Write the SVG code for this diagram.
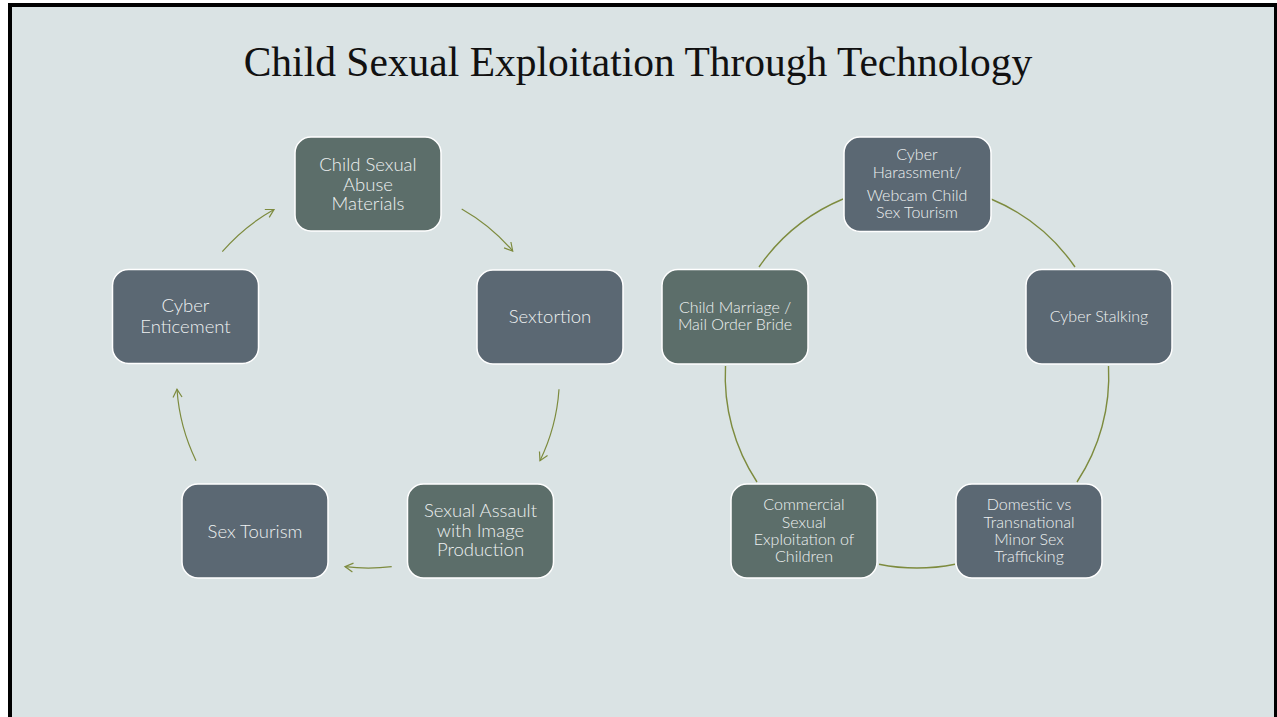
<svg xmlns="http://www.w3.org/2000/svg" width="1277" height="717" viewBox="0 0 1277 717">
  <defs>
    <style>
      .frame { fill: #000000; }
      .slide { fill: #dae3e4; }
      .title { font-family: "Liberation Serif", "DejaVu Serif", serif; font-size: 41.5px; fill: #111111; text-anchor: middle; }
      .box { stroke: #ffffff; stroke-width: 1.5; }
      .slate { fill: #5b6873; }
      .sage { fill: #5c6e6a; }
      .label { font-family: Lato, "Open Sans", "Liberation Sans", sans-serif; font-weight: 300; fill: #eef1f1; text-anchor: middle; }
      .big { font-size: 18.5px; }
      .small { font-size: 16px; }
      .arc { fill: none; stroke: #7d8b3e; stroke-width: 1.2; }
      .ring { fill: none; stroke: #7d8b3e; stroke-width: 1.4; }
    </style>
    <marker id="arrow" viewBox="-10 -6 12 12" refX="0" refY="0" markerWidth="12" markerHeight="12" markerUnits="userSpaceOnUse" orient="auto">
      <path d="M-8,-4.5 L0,0 L-8,4.5" fill="none" stroke="#7d8b3e" stroke-width="1.2"/>
    </marker>
  </defs>

  <!-- slide background with dark frame -->
  <rect x="0" y="0" width="1277" height="717" fill="#ffffff"/>
  <rect class="frame" x="8" y="3" width="1269" height="714"/>
  <rect class="slide" x="12" y="7" width="1262" height="710"/>

  <text class="title" x="638" y="76">Child Sexual Exploitation Through Technology</text>

  <!-- connectors -->
  <g id="connectors">
    <!-- left cycle, circle centre (368,376) r=192 -->
    <path class="arc" marker-end="url(#arrow)" d="M222.3,251.7 A192,192 0 0 1 274,209.5"/>
    <path class="arc" marker-end="url(#arrow)" d="M461.7,209 A192,192 0 0 1 512.7,251"/>
    <path class="arc" marker-end="url(#arrow)" d="M559,389.3 A192,192 0 0 1 540,460.7"/>
    <path class="arc" marker-end="url(#arrow)" d="M391.7,566.6 A192,192 0 0 1 345,566.6"/>
    <path class="arc" marker-end="url(#arrow)" d="M196,460.7 A192,192 0 0 1 177,389.3"/>
    <!-- right cycle, circle centre (917,376) r=192 -->
    <path class="ring" d="M759,267 A192,192 0 0 1 843,199"/>
    <path class="ring" d="M991,199 A192,192 0 0 1 1075,267"/>
    <path class="ring" d="M1108.5,366 A192,192 0 0 1 1077,482"/>
    <path class="ring" d="M955,564.2 A192,192 0 0 1 879,564.2"/>
    <path class="ring" d="M757,482 A192,192 0 0 1 725.5,366"/>
  </g>

  <!-- left cycle nodes -->
  <g id="csam">
    <rect class="box sage" x="295" y="137" width="146" height="94" rx="16"/>
    <text class="label big" x="368" y="170.5">Child Sexual</text>
    <text class="label big" x="368" y="190.5">Abuse</text>
    <text class="label big" x="368" y="210">Materials</text>
  </g>
  <g id="sextortion">
    <rect class="box slate" x="477" y="270" width="146" height="94" rx="16"/>
    <text class="label big" x="550" y="322.5">Sextortion</text>
  </g>
  <g id="sexual-assault">
    <rect class="box sage" x="407.5" y="484" width="146" height="94" rx="16"/>
    <text class="label big" x="480.5" y="516.5">Sexual Assault</text>
    <text class="label big" x="480.5" y="536.5">with Image</text>
    <text class="label big" x="480.5" y="556">Production</text>
  </g>
  <g id="sex-tourism">
    <rect class="box slate" x="182" y="484" width="146" height="94" rx="16"/>
    <text class="label big" x="255" y="537.5">Sex Tourism</text>
  </g>
  <g id="cyber-enticement">
    <rect class="box slate" x="112.5" y="269.5" width="146" height="94" rx="16"/>
    <text class="label big" x="185.5" y="312">Cyber</text>
    <text class="label big" x="185.5" y="332.5">Enticement</text>
  </g>

  <!-- right cycle nodes -->
  <g id="cyber-harassment">
    <rect class="box slate" x="844" y="137" width="147" height="94.5" rx="16"/>
    <text class="label small" x="917" y="160">Cyber</text>
    <text class="label small" x="917" y="177.5">Harassment/</text>
    <text class="label small" x="917" y="201">Webcam Child</text>
    <text class="label small" x="917" y="218">Sex Tourism</text>
  </g>
  <g id="cyber-stalking">
    <rect class="box slate" x="1026" y="269.5" width="146" height="94.5" rx="16"/>
    <text class="label small" x="1099" y="322">Cyber Stalking</text>
  </g>
  <g id="domestic-transnational">
    <rect class="box slate" x="956" y="484" width="146" height="94" rx="16"/>
    <text class="label small" x="1029" y="510">Domestic vs</text>
    <text class="label small" x="1029" y="527.5">Transnational</text>
    <text class="label small" x="1029" y="545">Minor Sex</text>
    <text class="label small" x="1029" y="562">Trafficking</text>
  </g>
  <g id="commercial-exploitation">
    <rect class="box sage" x="731" y="484" width="146" height="94" rx="16"/>
    <text class="label small" x="804" y="510">Commercial</text>
    <text class="label small" x="804" y="527.5">Sexual</text>
    <text class="label small" x="804" y="545">Exploitation of</text>
    <text class="label small" x="804" y="562">Children</text>
  </g>
  <g id="child-marriage">
    <rect class="box sage" x="662" y="269.5" width="146" height="94.5" rx="16"/>
    <text class="label small" x="735" y="313">Child Marriage /</text>
    <text class="label small" x="735" y="330">Mail Order Bride</text>
  </g>
</svg>
